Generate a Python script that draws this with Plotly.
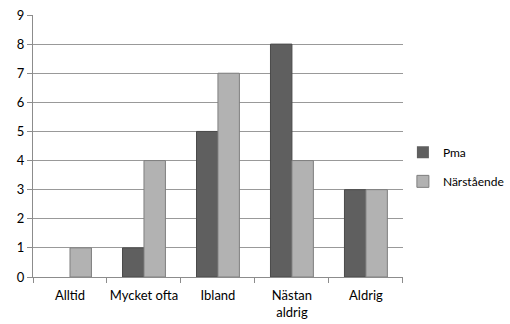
import plotly.graph_objects as go

categories = ["Alltid", "Mycket ofta", "Ibland", "Nästan<br>aldrig", "Aldrig"]
pma = [0, 1, 5, 8, 3]
narstaende = [1, 4, 7, 4, 3]
y_ticks = list(range(0, 10))

font = dict(family="Lato, Open Sans, sans-serif", size=13, color="#000000")


def outline_widths(values):
    # empty bars get no outline so nothing is drawn at zero
    return [0 if v == 0 else 1 for v in values]


fig = go.Figure()
fig.add_trace(go.Bar(
    x=categories, y=pma, name="Pma", legendgroup="a",
    marker=dict(color="#5f5f5f", line=dict(color="#4a4a4a", width=outline_widths(pma))),
))
fig.add_trace(go.Bar(
    x=categories, y=narstaende, name="Närstående", legendgroup="b",
    marker=dict(color="#b2b2b2", line=dict(color="#7f7f7f", width=outline_widths(narstaende))),
))

fig.update_layout(
    width=510, height=324,
    margin=dict(l=33, r=107, t=15, b=47),
    paper_bgcolor="white", plot_bgcolor="white",
    font=font,
    barmode="group", bargap=0.42, bargroupgap=0,
    showlegend=True,
    legend=dict(xref="container", yref="container", x=0.79, y=0.485,
                xanchor="left", yanchor="middle",
                tracegroupgap=10, font=dict(size=12)),
    xaxis=dict(
        showline=True, linecolor="#8c8c8c", linewidth=1,
        ticks="outside", tickson="boundaries", ticklen=5, tickcolor="#8c8c8c",
        showgrid=False, tickangle=0, automargin=False, ticklabelstandoff=6,
    ),
    yaxis=dict(
        range=[0, 9], tickvals=y_ticks,
        showline=True, linecolor="#8c8c8c", linewidth=1,
        ticks="outside", ticklen=5, tickcolor="#8c8c8c",
        showgrid=True, gridcolor="#999999", gridwidth=1,
        zeroline=False, automargin=False,
    ),
)

fig.write_html("out.html")
